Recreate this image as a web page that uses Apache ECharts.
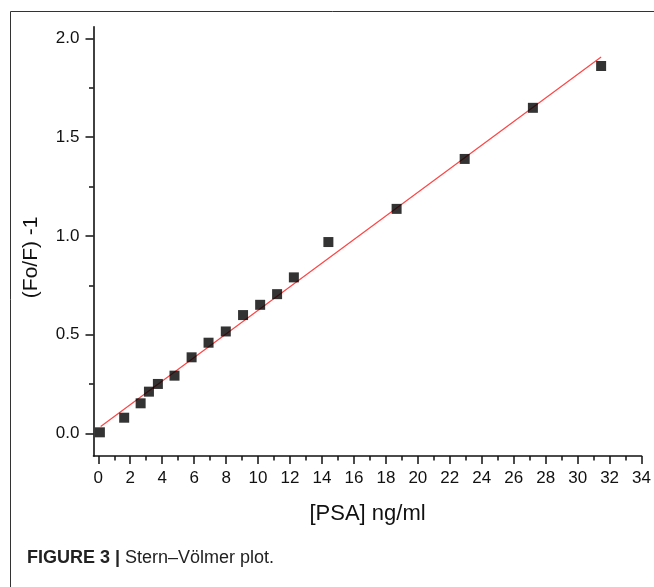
<!DOCTYPE html>
<html>
<head>
<meta charset="utf-8">
<script src="https://cdn.jsdelivr.net/npm/echarts@6/dist/echarts.min.js"></script>
<style>
  html, body { margin: 0; padding: 0; background: #fff; }
  #chart { width: 654px; height: 587px; }
</style>
</head>
<body>
<div id="chart"></div>
<script>
// measured points: [PSA] ng/ml vs (Fo/F)-1
const psa = [0.1, 1.62, 2.65, 3.17, 3.73, 4.77, 5.84, 6.9, 7.98, 9.06, 10.13, 11.19, 12.24, 14.4, 18.67, 22.93, 27.2, 31.47];
const ratio = [0.005, 0.079, 0.152, 0.211, 0.25, 0.292, 0.385, 0.459, 0.516, 0.599, 0.651, 0.705, 0.79, 0.969, 1.137, 1.39, 1.649, 1.861];

// linear fit line ends
const fitX = [0.15, 31.47];
const fitY = [0.034, 1.907];

// ticks
const xMajor = [0, 2, 4, 6, 8, 10, 12, 14, 16, 18, 20, 22, 24, 26, 28, 30, 32, 34];
const xMinor = [1, 3, 5, 7, 9, 11, 13, 15, 17, 19, 21, 23, 25, 27, 29, 31, 33];
const yMajor = [0, 0.5, 1.0, 1.5, 2.0];
const yMinor = [0.25, 0.75, 1.25, 1.75];

const font = "'Liberation Sans', Arial, sans-serif";
const xMin = -0.3, xMax = 34, yMin = -0.115, yMax = 2.06;

let chart = echarts.init(document.getElementById("chart"));

const xBase = {
  type: "value",
  min: xMin,
  max: xMax,
  position: "bottom",
  splitLine: { show: false },
};
const yBase = {
  type: "value",
  min: yMin,
  max: yMax,
  position: "left",
  splitLine: { show: false },
};

let option = {
  animation: false,
  title: {
    left: 27,
    top: 549,
    padding: 0,
    text: "{b|FIGURE 3 |} Stern–Völmer plot.",
    textStyle: {
      rich: {
        b: { fontFamily: font, fontSize: 18, fontWeight: "bold", color: "#222" },
      },
      fontFamily: font,
      fontSize: 18,
      fontWeight: "normal",
      color: "#222",
    },
  },
  graphic: [
    {
      type: "polyline",
      shape: { points: [[10.5, 587], [10.5, 11.5], [654, 11.5]] },
      style: { stroke: "#333", lineWidth: 1, fill: null },
      silent: true,
    },
  ],
  grid: { left: 93.5, right: 8.5, top: 26.7, bottom: 131 },
  xAxis: [
    Object.assign({}, xBase, {
      name: "[PSA] ng/ml",
      nameLocation: "middle",
      nameGap: 47,
      nameTextStyle: { fontFamily: font, fontSize: 22, color: "#111" },
      axisLine: { show: true, onZero: false, lineStyle: { color: "#111", width: 1.6 } },
      axisTick: { show: true, inside: false, length: 8, customValues: xMajor, lineStyle: { color: "#111", width: 1.5 } },
      axisLabel: { customValues: xMajor, margin: 14, fontFamily: font, fontSize: 17, color: "#111" },
    }),
    Object.assign({}, xBase, {
      axisLine: { show: false, onZero: false },
      axisTick: { show: true, inside: false, length: 4.5, customValues: xMinor, lineStyle: { color: "#111", width: 1.5 } },
      axisLabel: { show: false },
    }),
  ],
  yAxis: [
    Object.assign({}, yBase, {
      name: "(Fo/F) -1",
      nameLocation: "middle",
      nameGap: 52,
      nameRotate: 90,
      nameTextStyle: { fontFamily: font, fontSize: 21, color: "#111", padding: [0, 32, 0, 0] },
      axisLine: { show: true, onZero: false, lineStyle: { color: "#111", width: 1.6 } },
      axisTick: { show: true, inside: false, length: 8, customValues: yMajor, lineStyle: { color: "#111", width: 1.5 } },
      axisLabel: {
        customValues: yMajor,
        margin: 14,
        fontFamily: font,
        fontSize: 17,
        color: "#111",
        formatter: (v) => Number(v).toFixed(1),
      },
    }),
    Object.assign({}, yBase, {
      axisLine: { show: false, onZero: false },
      axisTick: { show: true, inside: false, length: 4.5, customValues: yMinor, lineStyle: { color: "#111", width: 1.5 } },
      axisLabel: { show: false },
    }),
  ],
  series: [
    {
      type: "line",
      data: fitX.map((x, i) => [x, fitY[i]]),
      symbol: "none",
      lineStyle: { color: "#ff4444", width: 1.2 },
      z: 2,
    },
    {
      type: "scatter",
      data: psa.map((x, i) => [x, ratio[i]]),
      symbol: "rect",
      symbolSize: 10,
      itemStyle: { color: "#000" },
      z: 3,
    },
  ],
};

option && chart.setOption(option);
</script>
</body>
</html>
